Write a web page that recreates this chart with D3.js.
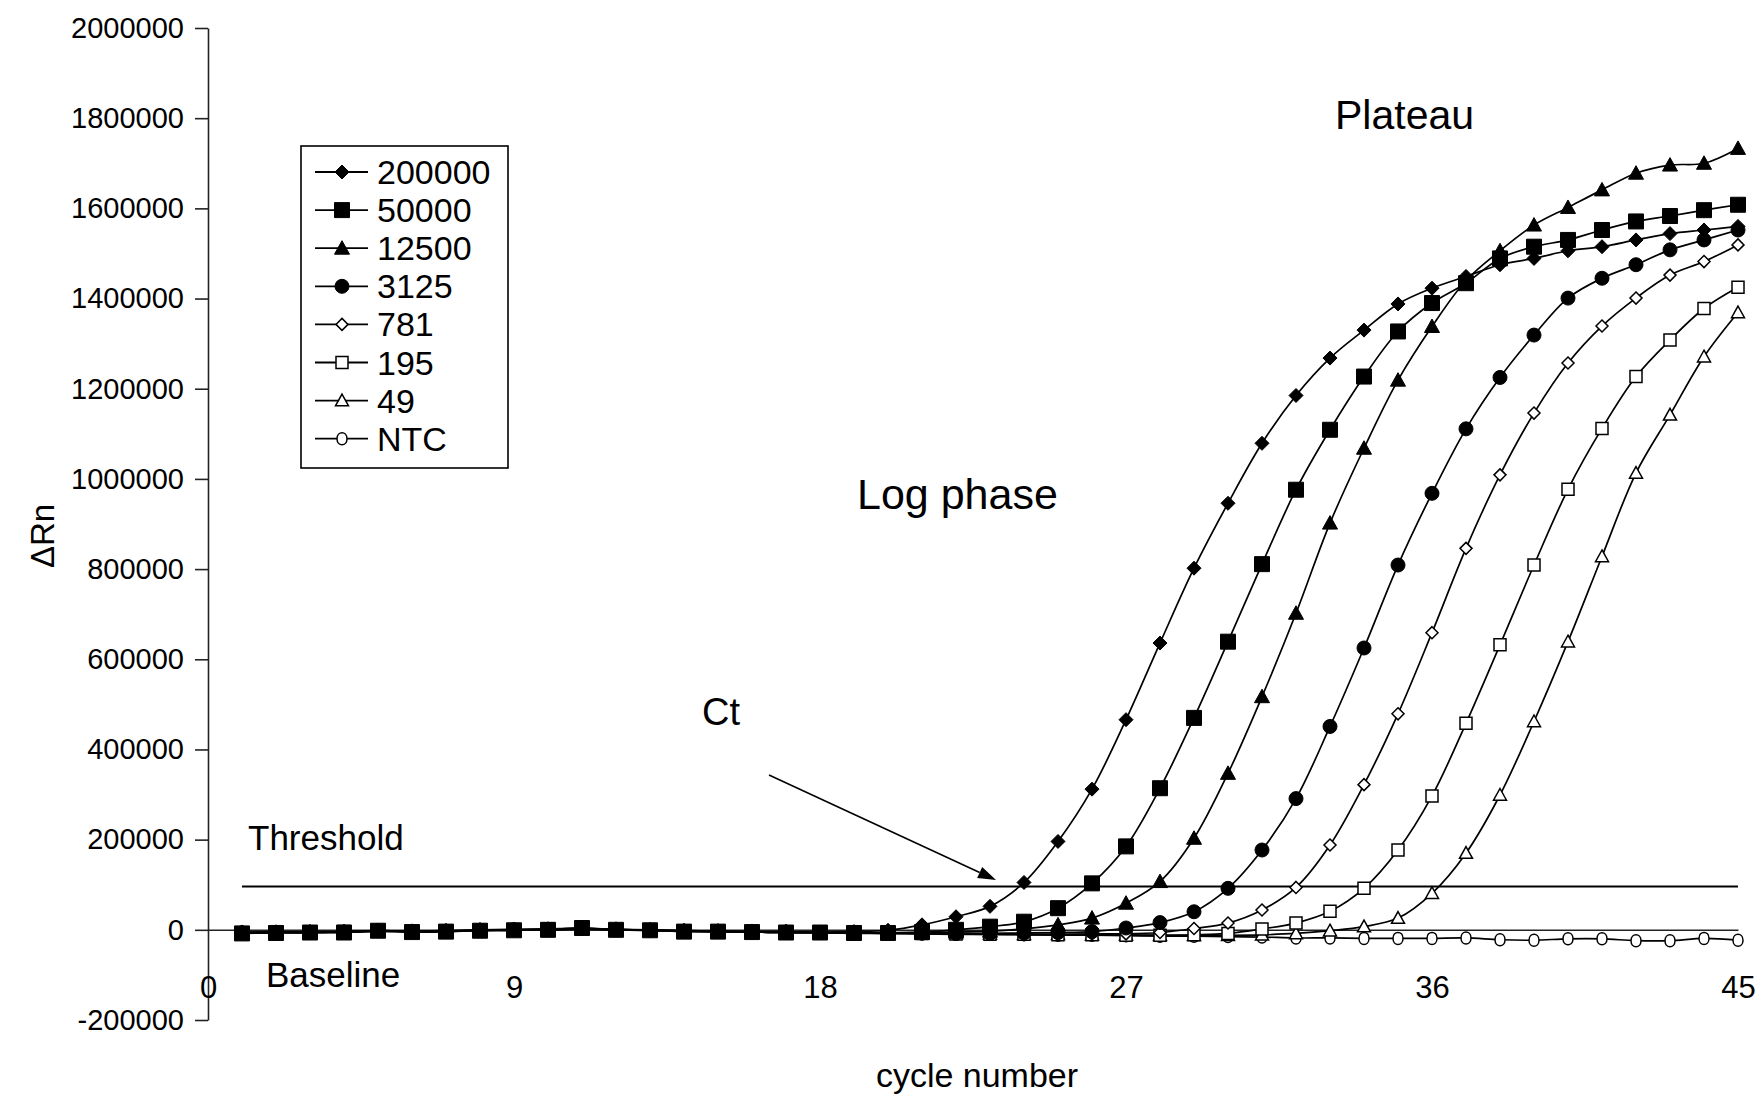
<!DOCTYPE html>
<html>
<head>
<meta charset="utf-8">
<script src="https://cdn.jsdelivr.net/npm/d3@7/dist/d3.min.js"></script>
<style>
    html, body { margin: 0; padding: 0; background: #fff; }
    svg text { font-family: "Liberation Sans", Arial, sans-serif; fill: #000; }
</style>
</head>
<body>
<svg id="chart" width="1761" height="1099"></svg>
<script>
//cycle numbers 1..45
var cycles = d3.range(1, 46);
var xTicks = [0, 9, 18, 27, 36, 45];
var yTicks = [-200000, 0, 200000, 400000, 600000, 800000, 1000000, 1200000, 1400000, 1600000, 1800000, 2000000];
var seriesNames = ["200000", "50000", "12500", "3125", "781", "195", "49", "NTC"];
var markerTypes = ["diamond", "square", "triangle", "circle", "diamondOpen", "squareOpen", "triangleOpen", "circleOpen"];
var thresholdValue = 96000;

var s200000 = [-6000, -5000, -6000, -4000, -2000, -3000, -2000, 0, 1000, 2000, 3000, 1000, 0, -2000, -3000, -4000, -4000, -5000, -4000, -1000,
    11000, 29000, 52000, 105000, 196000, 312000, 466000, 636000, 802000, 946000, 1079000, 1185000, 1268000, 1330000, 1388000,
    1423000, 1449000, 1475000, 1489000, 1506000, 1515000, 1530000, 1544000, 1552000, 1560000];
var s50000 = [-8000, -7000, -6000, -6000, -2000, -5000, -4000, -2000, -1000, 0, 4000, 0, -1000, -4000, -4000, -5000, -6000, -6000, -7000, -7000,
    -5000, 0, 7000, 18000, 48000, 103000, 185000, 314000, 470000, 639000, 811000, 976000, 1109000, 1227000, 1327000,
    1390000, 1434000, 1489000, 1515000, 1530000, 1552000, 1571000, 1583000, 1596000, 1608000];
var s12500 = [-7000, -6000, -5000, -5000, -3000, -4000, -3000, -1000, 0, 1000, 3000, 1000, -1000, -3000, -3000, -5000, -5000, -6000, -6000, -6000,
    -6000, -5000, -3000, 2000, 11000, 26000, 59000, 107000, 203000, 347000, 517000, 702000, 902000, 1068000, 1219000,
    1338000, 1440000, 1506000, 1563000, 1602000, 1641000, 1678000, 1696000, 1700000, 1733000];
var s3125 = [-7000, -6000, -6000, -5000, -2000, -4000, -4000, -1000, 0, 1000, 3000, 0, -1000, -3000, -4000, -5000, -5000, -6000, -7000, -7000,
    -7000, -8000, -8000, -7000, -6000, -4000, 4000, 16000, 40000, 92000, 177000, 291000, 451000, 625000, 809000,
    968000, 1111000, 1225000, 1319000, 1401000, 1445000, 1475000, 1508000, 1530000, 1552000];
var s781 = [-6000, -6000, -5000, -5000, -3000, -4000, -3000, -2000, -1000, 0, 2000, 0, -2000, -3000, -4000, -5000, -6000, -7000, -7000, -8000,
    -8000, -9000, -9000, -10000, -10000, -9000, -9000, -6000, 3000, 15000, 44000, 94000, 188000, 322000, 479000,
    659000, 846000, 1009000, 1146000, 1257000, 1339000, 1401000, 1452000, 1482000, 1519000];
var s195 = [-7000, -6000, -6000, -4000, -3000, -4000, -3000, -1000, -1000, 1000, 2000, 0, -1000, -2000, -4000, -5000, -6000, -6000, -7000, -8000,
    -8000, -9000, -10000, -10000, -11000, -11000, -12000, -12000, -11000, -8000, 2000, 15000, 41000, 92000, 177000,
    297000, 458000, 632000, 809000, 977000, 1112000, 1227000, 1308000, 1378000, 1425000];
var s49 = [-6000, -5000, -5000, -5000, -3000, -3000, -2000, -1000, 0, 0, 2000, 1000, -1000, -2000, -3000, -4000, -5000, -6000, -6000, -7000,
    -8000, -8000, -9000, -10000, -10000, -11000, -11000, -12000, -12000, -12000, -11000, -8000, -2000, 7000, 26000,
    81000, 170000, 299000, 462000, 639000, 828000, 1013000, 1142000, 1271000, 1369000];
var sNTC = [-5000, -5000, -4000, -4000, -2000, -3000, -3000, -1000, 0, 0, 2000, 0, -1000, -3000, -4000, -5000, -6000, -6000, -8000, -8000,
    -9000, -10000, -10000, -11000, -12000, -12000, -13000, -14000, -14000, -15000, -16000, -18000, -18000, -19000, -19000,
    -19000, -18000, -22000, -23000, -20000, -20000, -24000, -24000, -19000, -23000];

var seriesValues = [s200000, s50000, s12500, s3125, s781, s195, s49, sNTC];

var svg = d3.select("#chart");

var x = d3.scaleLinear().domain([0, 45]).range([208, 1738]);
var y = d3.scaleLinear().domain([-200000, 2000000]).range([1020, 28]);

//marker path for each style, r = half width
function markerPath(type) {
    var p = d3.path();
    var r;
    if (type.indexOf("diamond") === 0) {
        r = type === "diamond" ? 7 : 6;
        p.moveTo(0, -r); p.lineTo(r, 0); p.lineTo(0, r); p.lineTo(-r, 0); p.closePath();
    } else if (type.indexOf("square") === 0) {
        r = type === "square" ? 7.5 : 6;
        p.rect(-r, -r, 2 * r, 2 * r);
    } else if (type.indexOf("triangle") === 0) {
        r = type === "triangle" ? 7.5 : 6.5;
        p.moveTo(0, -r); p.lineTo(r, r * 0.8); p.lineTo(-r, r * 0.8); p.closePath();
    } else if (type === "circle") {
        p.arc(0, 0, 7, 0, 2 * Math.PI);
    } else {
        //NTC circles look a little taller than wide
        p.moveTo(5, 0);
        p.bezierCurveTo(5, -8, -5, -8, -5, 0);
        p.bezierCurveTo(-5, 8, 5, 8, 5, 0);
        p.closePath();
    }
    return p.toString();
}

function isOpen(type) {
    return type.indexOf("Open") > 0;
}

function styleMarker(sel, type) {
    sel.attr("d", markerPath(type))
        .attr("fill", isOpen(type) ? "#fff" : "#000")
        .attr("stroke", "#000")
        .attr("stroke-width", isOpen(type) ? 1.5 : 1);
}

//axes
var yAxis = d3.axisLeft(y).tickValues(yTicks).tickSize(13).tickSizeOuter(0).tickPadding(11).tickFormat(String);
var gy = svg.append("g").attr("transform", "translate(" + x(0) + ",0)").call(yAxis);
gy.selectAll("text").attr("font-size", 29);
gy.selectAll("path, line").attr("stroke", "#222").attr("stroke-width", 1.6);

var xAxis = d3.axisBottom(x).tickValues(xTicks).tickSize(0).tickSizeOuter(0).tickPadding(46).tickFormat(String);
var gx = svg.append("g").attr("transform", "translate(0," + y(0) + ")").call(xAxis);
gx.selectAll("text").attr("font-size", 31);
gx.select(".domain").attr("stroke", "#222").attr("stroke-width", 1.6);

//threshold line
svg.append("line")
    .attr("x1", x(1)).attr("x2", x(45))
    .attr("y1", y(thresholdValue)).attr("y2", y(thresholdValue))
    .attr("stroke", "#000").attr("stroke-width", 2);

//series, drawn last-to-first so the filled markers sit on top at the baseline
var line = d3.line()
    .x(function (d, i) { return x(cycles[i]); })
    .y(function (d) { return y(d); })
    .curve(d3.curveCatmullRom.alpha(0.5));

for (var k = seriesValues.length - 1; k >= 0; k--) {
    var g = svg.append("g").attr("class", "series s" + k);
    g.append("path")
        .attr("d", line(seriesValues[k]))
        .attr("fill", "none")
        .attr("stroke", "#000")
        .attr("stroke-width", 1.7);
    g.selectAll("path.mark")
        .data(seriesValues[k])
        .enter()
        .append("path")
        .attr("class", "mark")
        .attr("transform", function (d, i) { return "translate(" + x(cycles[i]) + "," + y(d) + ")"; })
        .call(styleMarker, markerTypes[k]);
}

//legend
var legend = svg.append("g").attr("class", "legend");
legend.append("rect")
    .attr("x", 301).attr("y", 146).attr("width", 207).attr("height", 322)
    .attr("fill", "#fff").attr("stroke", "#000").attr("stroke-width", 1.6);
seriesNames.forEach(function (name, k) {
    var ly = 172 + k * 38.1;
    legend.append("line")
        .attr("x1", 315).attr("x2", 368).attr("y1", ly).attr("y2", ly)
        .attr("stroke", "#000").attr("stroke-width", 1.8);
    legend.append("path")
        .attr("transform", "translate(342," + ly + ")")
        .call(styleMarker, markerTypes[k]);
    legend.append("text")
        .attr("x", 377).attr("y", ly + 12)
        .attr("font-size", 34)
        .text(name);
});

//annotations
function label(txt, lx, ly, size, anchor) {
    return svg.append("text")
        .attr("x", lx).attr("y", ly)
        .attr("font-size", size)
        .attr("text-anchor", anchor || "start")
        .text(txt);
}
label("Plateau", 1335, 129, 41);
label("Log phase", 857, 509, 43);
label("Ct", 702, 725, 38);
label("Threshold", 248, 850, 35);
label("Baseline", 266, 987, 35);
label("cycle number", 977, 1087, 34, "middle");

svg.append("text")
    .attr("transform", "translate(54,536) rotate(-90)")
    .attr("text-anchor", "middle")
    .attr("font-size", 33)
    .text("ΔRn");

//Ct arrow
var ax1 = 769, ay1 = 775, ax2 = 996, ay2 = 880;
var ang = Math.atan2(ay2 - ay1, ax2 - ax1);
var headLen = 18, headW = 6;
var bx = ax2 - headLen * Math.cos(ang), by = ay2 - headLen * Math.sin(ang);
svg.append("line")
    .attr("x1", ax1).attr("y1", ay1).attr("x2", bx).attr("y2", by)
    .attr("stroke", "#000").attr("stroke-width", 1.6);
svg.append("path")
    .attr("d", "M" + ax2 + "," + ay2 +
        "L" + (bx + headW * Math.sin(ang)) + "," + (by - headW * Math.cos(ang)) +
        "L" + (bx - headW * Math.sin(ang)) + "," + (by + headW * Math.cos(ang)) + "Z")
    .attr("fill", "#000");
</script>
</body>
</html>
